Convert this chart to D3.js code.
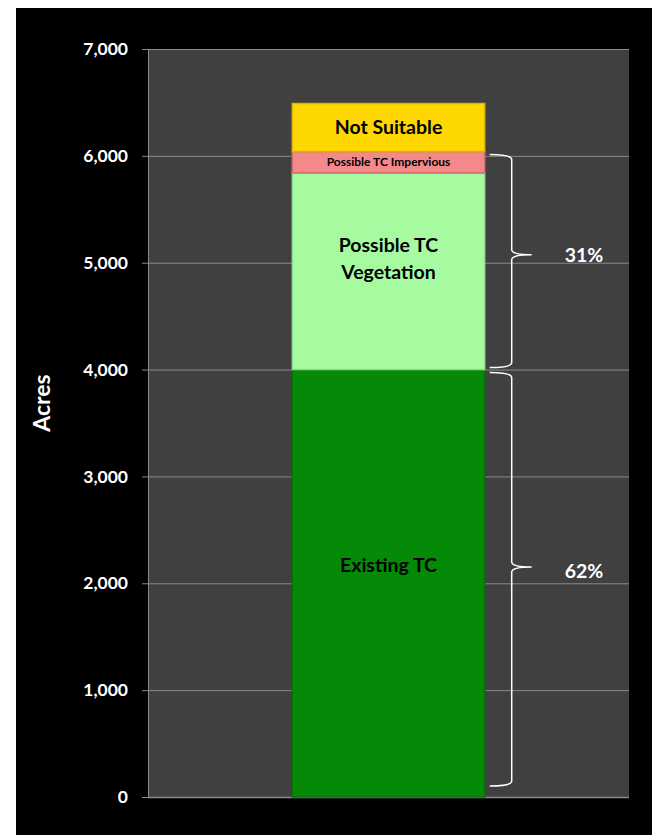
<!DOCTYPE html>
<html>
<head>
<meta charset="utf-8">
<script src="https://cdn.jsdelivr.net/npm/d3@7"></script>
<style>
  html, body { margin: 0; padding: 0; background: #ffffff; }
  svg { display: block; font-family: Lato, "Open Sans", sans-serif; }
</style>
</head>
<body>
<svg id="chart" width="657" height="835"></svg>
<script>
// Land cover categories stacked from the bottom up
const categories = ["Existing TC", "Possible TC Vegetation", "Possible TC Impervious", "Not Suitable"];
const acres = [4000, 1840, 200, 450];
const segmentLabels = [["Existing TC"], ["Possible TC", "Vegetation"], ["Possible TC Impervious"], ["Not Suitable"]];
const segmentColors = ["#058a07", "#a6fba0", "#f4898b", "#ffd700"];
const segmentEdges = ["#047005", "#8ed889", "#d46d70", "#d8b600"];
const yTicks = [0, 1000, 2000, 3000, 4000, 5000, 6000, 7000];
// Brace groups: index ranges of stacked segments and their share label
const groups = [
  { from: 0, to: 0, label: "62%" },
  { from: 1, to: 2, label: "31%" }
];

const svg = d3.select("#chart");
// black panel
svg.append("rect").attr("x", 16).attr("y", 8).attr("width", 636).attr("height", 827).attr("fill", "#000");

const plot = { left: 148, right: 629, top: 49, bottom: 797 };
const y = d3.scaleLinear().domain([0, 7000]).range([plot.bottom, plot.top]);
const x = d3.scaleBand().domain(["Area"]).range([plot.left, plot.right]).paddingInner(0).paddingOuter(0.75);

svg.append("rect")
  .attr("x", plot.left).attr("y", plot.top)
  .attr("width", plot.right - plot.left).attr("height", plot.bottom - plot.top)
  .attr("fill", "#404040");

// gridlines
svg.append("g").selectAll("line").data(yTicks.filter(d => d > 0)).join("line")
  .attr("x1", plot.left).attr("x2", plot.right)
  .attr("y1", d => y(d) + 0.5).attr("y2", d => y(d) + 0.5)
  .attr("stroke", "#8a8a8a").attr("stroke-width", 1);

// y axis
const yAxis = svg.append("g").attr("transform", `translate(${plot.left},0)`)
  .call(d3.axisLeft(y).tickValues(yTicks).tickFormat(d3.format(",")).tickSize(6).tickPadding(14));
yAxis.select(".domain").attr("stroke", "#8a8a8a").attr("d", `M0.5,${plot.top}V${plot.bottom}`);
yAxis.selectAll(".tick line").attr("stroke", "#8a8a8a");
yAxis.selectAll(".tick text").attr("fill", "#fff").attr("font-size", 17.5).attr("font-weight", "bold")
  .attr("font-family", "Lato, sans-serif");

// bottom axis line
svg.append("line").attr("x1", plot.left).attr("x2", plot.right)
  .attr("y1", plot.bottom + 0.5).attr("y2", plot.bottom + 0.5)
  .attr("stroke", "#8a8a8a").attr("stroke-width", 1.5);

svg.append("text")
  .attr("transform", `translate(50,403) rotate(-90)`)
  .attr("text-anchor", "middle")
  .attr("fill", "#fff").attr("font-size", 23).attr("font-weight", "bold")
  .text("Acres");

// stacked segments
const stacked = [];
let cum = 0;
acres.forEach((v, i) => { stacked.push({ i, y0: cum, y1: cum + v }); cum += v; });

const bx = x("Area"), bw = x.bandwidth();
const segG = svg.append("g");
segG.selectAll("rect").data(stacked).join("rect")
  .attr("x", bx).attr("y", d => y(d.y1))
  .attr("width", bw).attr("height", d => y(d.y0) - y(d.y1))
  .attr("fill", d => segmentColors[d.i])
  .attr("stroke", d => segmentEdges[d.i]).attr("stroke-width", 1.5);

// segment labels (tall segments carry their label a little above centre)
const fontSizes = [19.5, 19.5, 12, 19.5];
const labelShift = [-18, -13, 0, 0];
stacked.forEach(d => {
  const lines = segmentLabels[d.i];
  const fs = fontSizes[d.i];
  const cy = (y(d.y0) + y(d.y1)) / 2 + labelShift[d.i];
  const lh = 27;
  const t = svg.append("text")
    .attr("text-anchor", "middle")
    .attr("font-size", fs).attr("font-weight", "bold").attr("fill", "#000");
  lines.forEach((ln, k) => {
    t.append("tspan")
      .attr("x", bx + bw / 2)
      .attr("y", cy + (k - (lines.length - 1) / 2) * lh)
      .attr("dy", "0.35em")
      .text(ln);
  });
});

// curly braces with share labels
function bracePath(x0, xv, xt, y0, ym, y1) {
  const r = 5;
  return `M${x0},${y0} Q${xv},${y0} ${xv},${y0 + r} L${xv},${ym - r} Q${xv},${ym} ${xt},${ym}` +
    ` Q${xv},${ym} ${xv},${ym + r} L${xv},${y1 - r} Q${xv},${y1} ${x0},${y1}`;
}
const bright = bx + bw;
groups.forEach(g => {
  const top = y(stacked[g.to].y1) + 3;
  const bot = y(stacked[g.from].y0) - (g.from === 0 ? 11 : 2);
  const tip = top + 0.47 * (bot - top);
  svg.append("path")
    .attr("d", bracePath(bright + 5, bright + 27, bright + 47, top, tip, bot))
    .attr("fill", "none").attr("stroke", "#fff").attr("stroke-width", 1.5);
  svg.append("text")
    .attr("x", 584).attr("y", tip + (g.from === 0 ? 4 : 0)).attr("dy", "0.36em")
    .attr("text-anchor", "middle")
    .attr("fill", "#fff").attr("font-size", 19.5).attr("font-weight", "bold")
    .text(g.label);
});
</script>
</body>
</html>
